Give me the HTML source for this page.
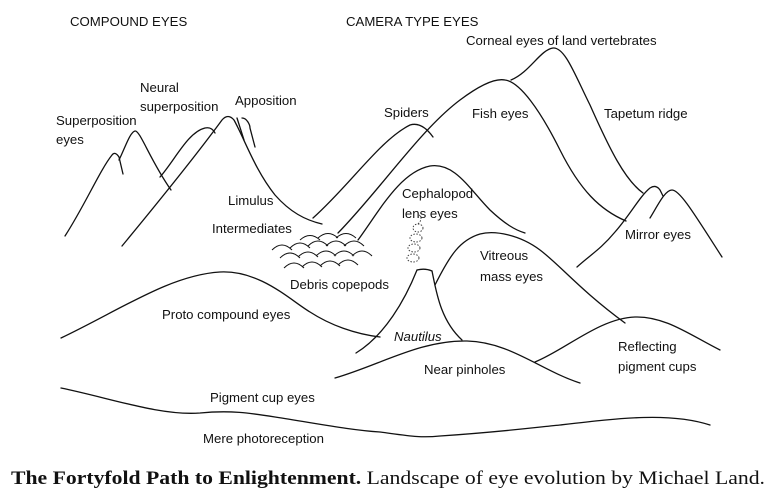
<!DOCTYPE html>
<html><head><meta charset="utf-8"><style>
html,body{margin:0;padding:0;background:#fff;}
svg{display:block}
text{font-family:"Liberation Sans",sans-serif;font-size:13.2px;fill:#111}
</style></head><body>
<svg width="779" height="502" viewBox="0 0 779 502" xmlns="http://www.w3.org/2000/svg">
<g fill="none" stroke="#111" stroke-width="1.3" stroke-linecap="round">
<path d="M65,236 C85,205 100,170 112,155 Q115,151 119,157 L123,174"/>
<path d="M119,160 C125,148 130,132 135,131 C140,130 150,160 171,190"/>
<path d="M160,177 C175,160 188,132 205,128 C210,127 213,129 215,133"/>
<path d="M122,246 C160,200 200,150 222,120 Q228,113 234,120 C245,140 255,170 275,195 C290,212 305,220 322,224"/>
<path d="M237,118 L244,140"/>
<path d="M242,118 C247,118 250,125 250,128 L255,147"/>
<path d="M313,218 C350,185 380,140 410,125 C420,122 428,130 433,137"/>
<path d="M338,233 C380,190 420,130 460,100 C480,85 495,78 505,80 C520,82 540,110 560,150 C580,190 600,210 626,221"/>
<path d="M511,80 C530,72 540,50 553,48 C565,47 575,75 590,105 C610,150 625,180 643,193"/>
<path d="M358,240 C380,210 400,172 430,166 C455,162 470,190 490,210 C505,224 515,230 525,233"/>
<path d="M577,267 C590,255 600,250 615,232 C630,215 640,196 650,188 Q656,184 660,190 L663,196"/>
<path d="M650,218 C658,205 665,190 672,190 C680,190 695,215 722,257"/>
<path d="M435,285 C450,255 460,240 480,234 C495,230 520,235 540,250 C560,265 580,290 625,323"/>
<path d="M61,338 C120,310 170,275 220,272 C260,270 290,300 310,312 C330,325 355,334 380,337"/>
<path d="M356,353 C385,335 405,300 417,270"/>
<path d="M417,270 Q425,268 432,271"/>
<path d="M432,271 C436,290 440,320 462,340"/>
<path d="M335,378 C380,365 420,340 467,341 C510,342 540,370 580,383"/>
<path d="M535,362 C565,350 600,318 635,317 C665,316 690,335 720,350"/>
<path d="M61,388 C110,398 160,416 200,413 C230,410 250,413 275,417 C320,424 350,430 380,432 C410,436 420,438 440,436 C500,432 530,428 560,425 C620,418 670,412 710,425"/>
</g>
<g fill="none" stroke="#111" stroke-width="1">
<path d="M272,250 q10,-10 20,0 M290,248 q10,-10 20,0 M308,246 q10,-10 20,0 M326,246 q10,-10 20,0 M344,246 q10,-10 20,0"/>
<path d="M280,258 q10,-10 20,0 M298,257 q10,-10 20,0 M316,256 q10,-10 20,0 M334,256 q10,-10 20,0 M352,256 q10,-10 20,0"/>
<path d="M284,268 q10,-10 20,0 M302,267 q10,-10 20,0 M320,266 q10,-10 20,0 M338,265 q10,-10 20,0"/>
<path d="M300,240 q10,-9 20,0 M318,238 q10,-9 20,0 M336,238 q10,-9 20,0"/>
</g>
<g fill="none" stroke="#333" stroke-width="0.9" stroke-dasharray="1.5 1.5">
<ellipse cx="413" cy="258" rx="6" ry="4"/>
<ellipse cx="414" cy="248" rx="6" ry="4"/>
<ellipse cx="416" cy="238" rx="6" ry="4"/>
<ellipse cx="418" cy="228" rx="5" ry="4"/>
<path d="M418,224 q6,-6 0,-10"/>
</g>
<text x="70" y="26">COMPOUND EYES</text>
<text x="346" y="26">CAMERA TYPE EYES</text>
<text x="466" y="45">Corneal eyes of land vertebrates</text>
<text x="140" y="92">Neural</text>
<text x="140" y="111">superposition</text>
<text x="235" y="105">Apposition</text>
<text x="56" y="125">Superposition</text>
<text x="56" y="144">eyes</text>
<text x="384" y="117">Spiders</text>
<text x="472" y="118">Fish eyes</text>
<text x="604" y="118">Tapetum ridge</text>
<text x="228" y="205">Limulus</text>
<text x="212" y="233">Intermediates</text>
<text x="402" y="198">Cephalopod</text>
<text x="402" y="218">lens eyes</text>
<text x="625" y="239">Mirror eyes</text>
<text x="480" y="260">Vitreous</text>
<text x="480" y="281">mass eyes</text>
<text x="290" y="289">Debris copepods</text>
<text x="162" y="319">Proto compound eyes</text>
<text x="394" y="341" font-style="italic">Nautilus</text>
<text x="618" y="351">Reflecting</text>
<text x="618" y="371">pigment cups</text>
<text x="424" y="374">Near pinholes</text>
<text x="210" y="402">Pigment cup eyes</text>
<text x="203" y="443">Mere photoreception</text>
<text x="11" y="484" textLength="754" lengthAdjust="spacingAndGlyphs" style="font-family:'Liberation Serif',serif;font-size:19px"><tspan font-weight="bold">The Fortyfold Path to Enlightenment.</tspan> Landscape of eye evolution by Michael Land.</text>
</svg>
</body></html>
